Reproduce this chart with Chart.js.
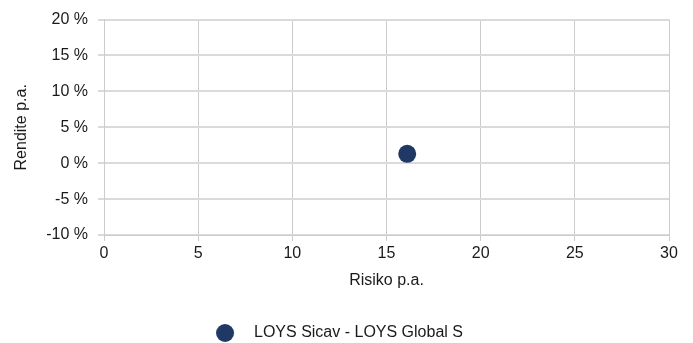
<!DOCTYPE html>
<html>
<head>
<meta charset="utf-8">
<script src="https://cdn.jsdelivr.net/npm/chart.js@4/dist/chart.umd.min.js"></script>
<style>
  html, body { margin: 0; padding: 0; background: #fff; }
  #wrap { width: 693px; height: 343px; }
</style>
</head>
<body>
<div id="wrap"><canvas id="riskChart"></canvas></div>
<script>
// data
const fundNames = ['LOYS Sicav - LOYS Global S'];
const riskValues = [16.1];     // Risiko p.a.
const returnValues = [1.3];    // Rendite p.a. in %
const xTicks = [0, 5, 10, 15, 20, 25, 30];
const yTicks = [-10, -5, 0, 5, 10, 15, 20];

const navy = '#1f3864';
const textColor = '#1a1a1a';
Chart.defaults.font.family = "'Liberation Sans', Arial, sans-serif";
Chart.defaults.font.size = 16;
Chart.defaults.color = textColor;

// legend dot as an image, so the gap to the text can match
const dot = document.createElement('canvas');
dot.width = 60;
dot.height = 20;
const dctx = dot.getContext('2d');
dctx.fillStyle = navy;
dctx.beginPath();
dctx.arc(29, 10, 9, 0, Math.PI * 2);
dctx.fill();

const ctx = document.getElementById('riskChart').getContext('2d');
const riskChart = new Chart(ctx, {
    type: 'scatter',
    data: {
        datasets: fundNames.map((name, i) => ({
            label: name,
            data: [{ x: riskValues[i], y: returnValues[i] }],
            backgroundColor: navy,
            borderColor: navy,
            borderWidth: 0,
            pointRadius: 9,
            pointHoverRadius: 9
        }))
    },
    options: {
        responsive: true,
        maintainAspectRatio: false,
        animation: false,
        layout: { padding: { top: 19, right: 24, left: 0, bottom: -8 } },
        plugins: {
            legend: {
                position: 'bottom',
                labels: {
                    usePointStyle: true,
                    pointStyle: dot,
                    pointStyleWidth: 40,
                    boxHeight: 16,
                    color: textColor,
                    font: { size: 16 }
                }
            },
            tooltip: { enabled: false }
        },
        scales: {
            x: {
                type: 'linear',
                min: xTicks[0],
                max: xTicks[xTicks.length - 1],
                afterBuildTicks: s => { s.ticks = xTicks.map(v => ({ value: v })); },
                afterFit: s => { s.height = 80; },
                ticks: { padding: 3, color: textColor },
                grid: { color: '#cccccc', lineWidth: 1, tickLength: 6 },
                border: { color: '#cccccc' },
                title: {
                    display: true,
                    text: 'Risiko p.a.',
                    color: textColor,
                    padding: { top: 0, bottom: 25 }
                }
            },
            y: {
                min: yTicks[0],
                max: yTicks[yTicks.length - 1],
                afterBuildTicks: s => { s.ticks = yTicks.map(v => ({ value: v })); },
                afterFit: s => { s.width = 104; },
                ticks: { padding: 10, color: textColor, callback: v => v + ' %' },
                grid: { color: '#dadada', lineWidth: 2, tickLength: 6 },
                border: { color: '#cccccc' },
                title: {
                    display: true,
                    text: 'Rendite p.a.',
                    color: textColor,
                    padding: { top: 12, bottom: 0 }
                }
            }
        }
    }
});
</script>
</body>
</html>
